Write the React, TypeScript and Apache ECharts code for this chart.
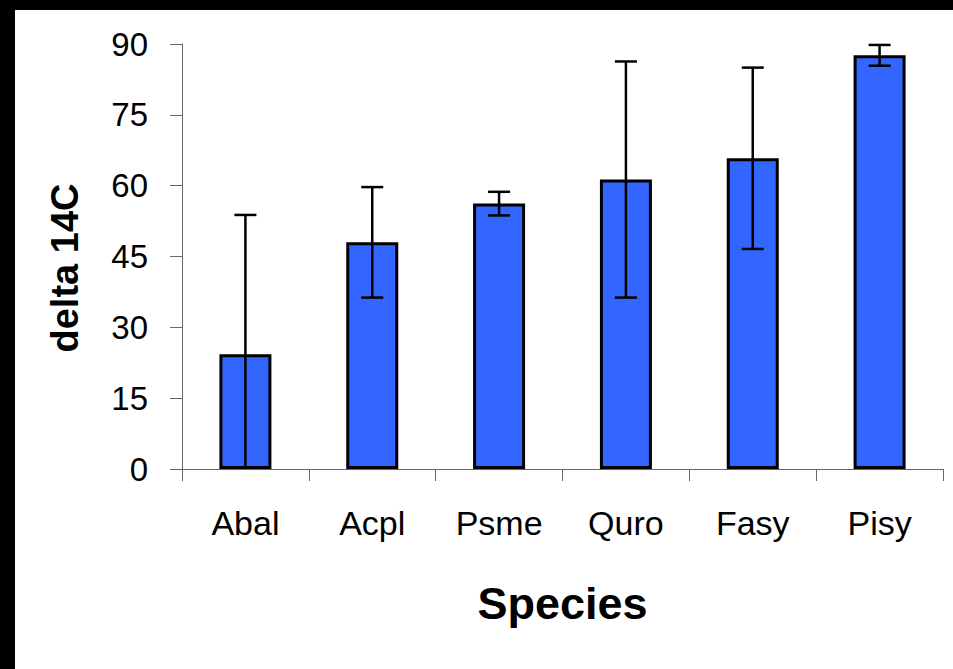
import React, { useEffect, useRef } from "react";
import * as echarts from "echarts";

const categories = ["Abal", "Acpl", "Psme", "Quro", "Fasy", "Pisy"];
const means = [24.3, 48.0, 56.2, 61.3, 65.8, 87.6];
const errors = [29.5, 11.7, 2.5, 25.0, 19.2, 2.2];
const yTicks = { min: 0, max: 90, interval: 15 };

const FONT = "'Liberation Sans', Arial, sans-serif";

export default function App() {
  const ref = useRef<HTMLDivElement>(null);
  useEffect(() => {
    document.documentElement.style.background = "#ffffff";
    document.body.style.margin = "0";
    document.body.style.background = "#ffffff";
    const chart = echarts.init(ref.current!, null, { renderer: "svg" });
    const errData = categories.map((_, i) => [i, means[i], errors[i]]);
    chart.setOption({
      animation: false,
      backgroundColor: "#ffffff",
      graphic: [
        { type: "rect", left: 0, top: 0, shape: { width: 953, height: 10 }, style: { fill: "#000" }, z: 100 },
        { type: "rect", left: 0, top: 0, shape: { width: 15, height: 669 }, style: { fill: "#000" }, z: 100 },
        {
          type: "text",
          x: 65,
          y: 268,
          rotation: Math.PI / 2,
          style: {
            text: "delta 14C",
            fontFamily: FONT,
            fontSize: 38,
            fontWeight: "bold",
            fill: "#000",
            align: "center",
            verticalAlign: "middle",
          },
        },
      ],
      grid: { left: 182, top: 44, right: 10, bottom: 200, containLabel: false },
      xAxis: {
        type: "category",
        data: categories,
        name: "Species",
        nameLocation: "middle",
        nameGap: 112,
        nameTextStyle: { fontFamily: FONT, fontSize: 45, fontWeight: "bold", color: "#000" },
        axisLine: { lineStyle: { color: "#666", width: 1 } },
        axisTick: { show: true, length: 12, alignWithLabel: false, lineStyle: { color: "#666" } },
        axisLabel: { fontFamily: FONT, fontSize: 34, color: "#000", margin: 37 },
      },
      yAxis: {
        type: "value",
        min: yTicks.min,
        max: yTicks.max,
        interval: yTicks.interval,
        axisLine: { show: true, lineStyle: { color: "#666", width: 1 } },
        axisTick: { show: true, length: 12, lineStyle: { color: "#666" } },
        splitLine: { show: false },
        axisLabel: { fontFamily: FONT, fontSize: 33, color: "#000", margin: 34 },
      },
      series: [
        {
          type: "bar",
          data: means,
          barWidth: 52,
          itemStyle: { color: "#3366FF", borderColor: "#000", borderWidth: 3 },
          z: 2,
        },
        {
          type: "custom",
          data: errData,
          z: 5,
          renderItem: (params: any, api: any) => {
            const x = api.value(0);
            const m = api.value(1);
            const e = api.value(2);
            const hi = m + e;
            const loRaw = m - e;
            const lo = Math.max(0, loRaw);
            const pHi = api.coord([x, hi]);
            const pLo = api.coord([x, lo]);
            const cap = 11;
            const style = { stroke: "#000", lineWidth: 2.5 };
            const children: any[] = [
              { type: "line", shape: { x1: pHi[0], y1: pHi[1], x2: pLo[0], y2: pLo[1] }, style },
              { type: "line", shape: { x1: pHi[0] - cap, y1: pHi[1], x2: pHi[0] + cap, y2: pHi[1] }, style },
            ];
            if (loRaw >= 0) {
              children.push({ type: "line", shape: { x1: pLo[0] - cap, y1: pLo[1], x2: pLo[0] + cap, y2: pLo[1] }, style });
            }
            return { type: "group", children };
          },
        },
      ],
    });
    return () => chart.dispose();
  }, []);
  return (
    <div style={{ position: "fixed", left: 0, top: 0, width: 953, height: 669, background: "#fff" }}>
      <div ref={ref} style={{ width: 953, height: 669 }} />
    </div>
  );
}
